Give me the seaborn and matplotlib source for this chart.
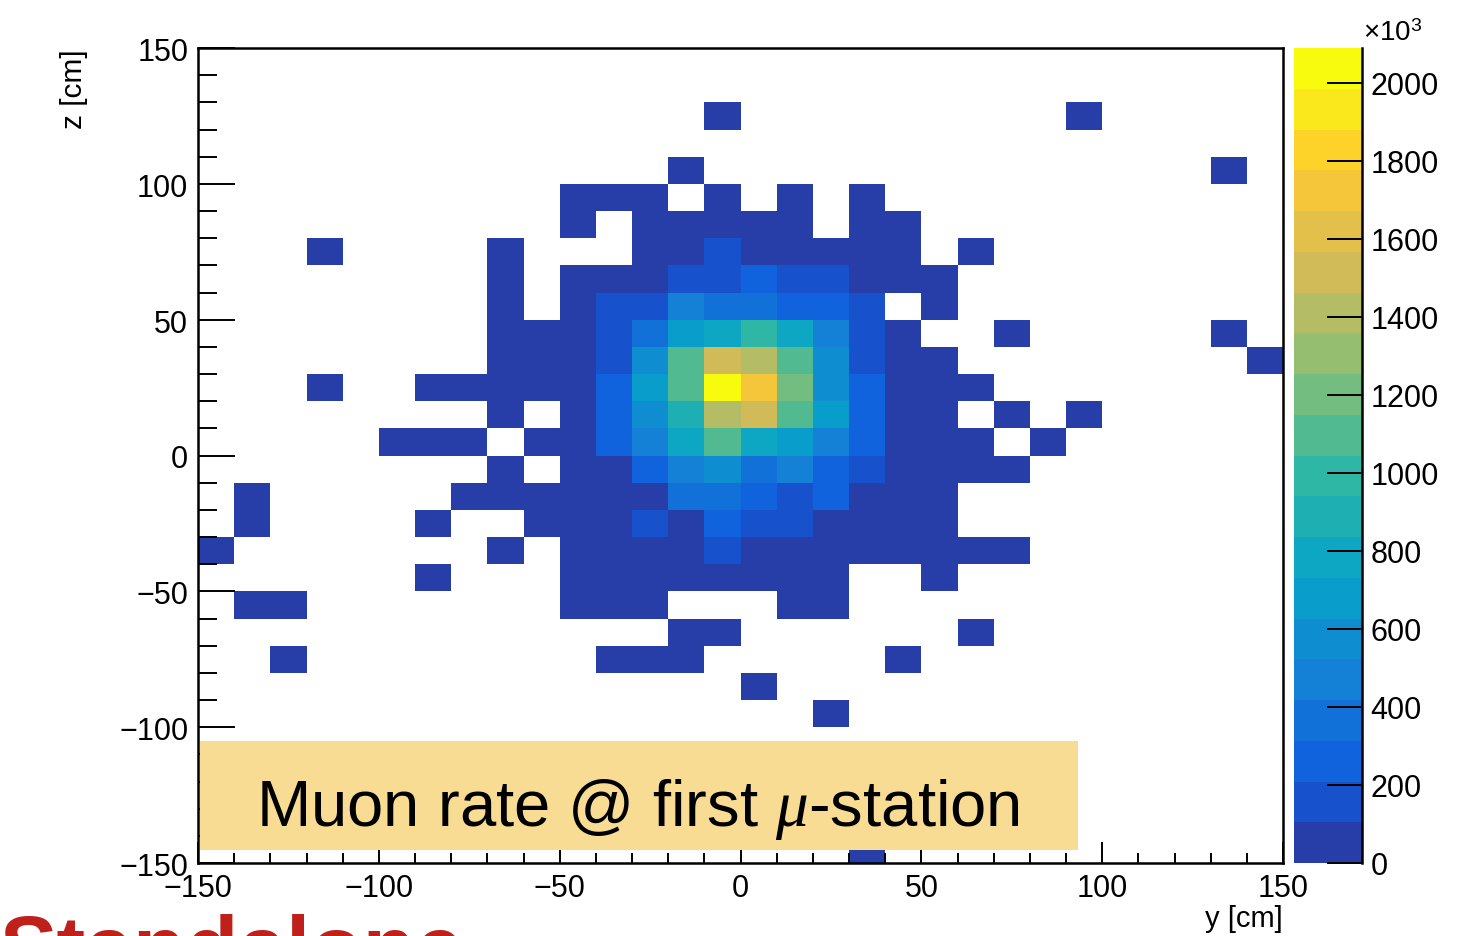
import numpy as np
import pandas as pd
import matplotlib
matplotlib.use("Agg")
import matplotlib.pyplot as plt
from matplotlib.colors import ListedColormap
from matplotlib.patches import Rectangle
import matplotlib.transforms as mtransforms
import seaborn as sns

# ---------------- data (muon rate, units of 10^3) ----------------
y_edges_low = list(range(-150, 150, 10))          # horizontal bins (y [cm])
z_rows = list(range(140, -160, -10))              # vertical bins, top -> bottom (lower edge, z [cm])
rate_rows = [
    [0]*30,
    [0]*30,
    [0,0,0,0,0,0,0,0,0,0, 0,0,0,0,40,0,0,0,0,0, 0,0,0,0,40,0,0,0,0,0],
    [0]*30,
    [0,0,0,0,0,0,0,0,0,0, 0,0,0,40,0,0,0,0,0,0, 0,0,0,0,0,0,0,0,40,0],
    [0,0,0,0,0,0,0,0,0,0, 50,50,50,0,50,0,50,0,50,0, 0,0,0,0,0,0,0,0,0,0],
    [0,0,0,0,0,0,0,0,0,0, 60,0,60,60,60,60,60,0,60,60, 0,0,0,0,0,0,0,0,0,0],
    [0,0,0,40,0,0,0,0,50,0, 0,0,70,80,157,90,80,70,60,50, 0,40,0,0,0,0,0,0,0,0],
    [0,0,0,0,0,0,0,0,50,0, 60,80,95,157,180,261,170,150,90,60, 50,0,0,0,0,0,0,0,0,0],
    [0,0,0,0,0,0,0,0,50,0, 80,150,170,470,366,366,261,261,157,0, 50,0,0,0,0,0,0,0,0,0],
    [0,0,0,0,0,0,0,0,50,60, 90,160,366,679,783,992,783,470,157,80, 0,0,40,0,0,0,0,0,40,0],
    [0,0,0,0,0,0,0,0,60,70, 95,160,574,1097,1515,1410,1097,574,157,80, 50,0,0,0,0,0,0,0,0,40],
    [0,0,0,40,0,0,50,50,60,80, 100,261,679,1097,2089,1723,1201,574,261,90, 60,50,0,0,0,0,0,0,0,0],
    [0,0,0,0,0,0,0,0,50,0, 90,261,574,888,1410,1515,1097,679,261,90, 60,0,40,0,40,0,0,0,0,0],
    [0,0,0,0,0,40,50,50,0,60, 90,261,470,783,1097,783,679,470,261,90, 60,50,0,40,0,0,0,0,0,0],
    [0,0,0,0,0,0,0,0,50,0, 70,90,261,470,574,366,470,261,157,80, 60,50,40,0,0,0,0,0,0,0],
    [0,40,0,0,0,0,0,50,50,60, 70,80,95,366,366,261,157,261,90,70, 50,0,0,0,0,0,0,0,0,0],
    [0,40,0,0,0,0,40,0,0,60, 70,80,157,95,261,157,157,90,80,60, 50,0,0,0,0,0,0,0,0,0],
    [40,0,0,0,0,0,0,0,50,0, 60,70,80,90,157,95,90,80,70,60, 50,50,40,0,0,0,0,0,0,0],
    [0,0,0,0,0,0,40,0,0,0, 50,60,70,80,90,80,70,60,0,0, 40,0,0,0,0,0,0,0,0,0],
    [0,40,40,0,0,0,0,0,0,0, 50,50,60,0,0,0,50,50,0,0, 0,0,0,0,0,0,0,0,0,0],
    [0,0,0,0,0,0,0,0,0,0, 0,0,0,50,50,0,0,0,0,0, 0,40,0,0,0,0,0,0,0,0],
    [0,0,40,0,0,0,0,0,0,0, 0,50,50,50,0,0,0,0,0,40, 0,0,0,0,0,0,0,0,0,0],
    [0,0,0,0,0,0,0,0,0,0, 0,0,0,0,0,50,0,0,0,0, 0,0,0,0,0,0,0,0,0,0],
    [0,0,0,0,0,0,0,0,0,0, 0,0,0,0,0,0,0,40,0,0, 0,0,0,0,0,0,0,0,0,0],
    [0]*30,
    [0]*30,
    [0]*30,
    [0]*30,
    [0,0,0,0,0,0,0,0,0,0, 0,0,0,0,0,0,0,0,40,0, 0,0,0,0,0,0,0,0,0,0],
]
axis_ticks = [-150, -100, -50, 0, 50, 100, 150]
cbar_ticks = [0, 200, 400, 600, 800, 1000, 1200, 1400, 1600, 1800, 2000]
z_max = 2089
n_levels = 20

# ---------------- palette (ROOT kBird, 20 contour levels) ----------------
stops = [0.0, 0.125, 0.25, 0.375, 0.5, 0.625, 0.75, 0.875, 1.0]
red = [0.2082, 0.0592, 0.0780, 0.0232, 0.1802, 0.5301, 0.8186, 0.9956, 0.9764]
green = [0.1664, 0.3599, 0.5041, 0.6419, 0.7178, 0.7492, 0.7328, 0.7862, 0.9832]
blue = [0.5293, 0.8684, 0.8385, 0.7914, 0.6425, 0.4662, 0.3499, 0.1968, 0.0539]
band_cols = []
for k in range(n_levels):
    p = int((k + 0.99) * 255 / n_levels) / 254.0
    band_cols.append((np.interp(p, stops, red), np.interp(p, stops, green), np.interp(p, stops, blue)))
cmap = ListedColormap(band_cols)

# ---------------- figure ----------------
plt.rcParams['font.family'] = ['Liberation Sans', 'DejaVu Sans']
plt.rcParams['mathtext.fontset'] = 'custom'
plt.rcParams['mathtext.rm'] = 'Liberation Sans'
plt.rcParams['mathtext.it'] = 'Liberation Serif:italic'

W, H = 1466, 937
fig = plt.figure(figsize=(W / 100, H / 100), dpi=100)
ax = fig.add_axes([198 / W, 1 - 864 / H, (1283 - 198) / W, (864 - 49) / H])
cax = fig.add_axes([1294 / W, 1 - 864 / H, (1362 - 1294) / W, (864 - 49) / H])

df = pd.DataFrame(rate_rows, index=z_rows, columns=y_edges_low).astype(float)
sns.heatmap(df, mask=(df == 0), cmap=cmap, vmin=0, vmax=z_max, ax=ax, cbar_ax=cax,
            cbar_kws={'ticks': cbar_ticks}, linewidths=0)

# axes frame
for s in ax.spines.values():
    s.set_visible(True)
    s.set_linewidth(1.8)
    s.set_color('black')

def fmt(v):
    return str(v).replace('-', '\u2212')

ax.set_xticks([(v + 150) / 10 for v in axis_ticks])
ax.set_xticklabels([fmt(v) for v in axis_ticks], rotation=0)
ax.set_xticks(np.arange(0, 31), minor=True)
ax.set_yticks([(150 - v) / 10 for v in axis_ticks])
ax.set_yticklabels([fmt(v) for v in axis_ticks], rotation=0)
ax.set_yticks(np.arange(0, 31), minor=True)
ax.set_xlim(0, 30)
ax.set_ylim(30, 0)

ax.tick_params(axis='x', which='major', direction='in', length=15, width=1.4,
               pad=7, labelsize=22, bottom=True, top=False)
ax.tick_params(axis='x', which='minor', direction='in', length=7.5, width=1.4,
               bottom=True, top=False)
ax.tick_params(axis='y', which='major', direction='in', length=26.5, width=1.4,
               pad=7, labelsize=22, left=True, right=False)
ax.tick_params(axis='y', which='minor', direction='in', length=13.5, width=1.4,
               left=True, right=False)

# small downward shift of y tick labels (ROOT-like placement)
shift = mtransforms.ScaledTranslation(0, -4 / 100, fig.dpi_scale_trans)
for lab in ax.get_yticklabels():
    lab.set_transform(lab.get_transform() + shift)

ax.set_xlabel('y [cm]', fontsize=21, loc='right')
ax.xaxis.set_label_coords(1.0, -(905 - 864) / 815)
ax.set_ylabel('z [cm]', fontsize=21.5, loc='top')
ax.yaxis.set_label_coords((88 - 198) / 1085, 1.0)

# colorbar styling
cax.tick_params(axis='y', which='major', direction='in', length=25, width=1.4,
                pad=6, labelsize=22, right=True, left=False)
cax.yaxis.set_ticks_position('right')
cax.set_yticklabels([str(v) for v in cbar_ticks])
cax.plot([1, 1], [0, 1], transform=cax.transAxes, color='black', lw=1.8, clip_on=False)
fig.text(1363 / W, 1 - 47 / H, '\u00d710$^{3}$', fontsize=20, ha='left', va='bottom')

# annotation box
fig.add_artist(Rectangle((199.5 / W, 1 - 851 / H), (1078 - 199.5) / W, (851 - 742) / H,
                         transform=fig.transFigure, facecolor='#f8dc94', edgecolor='none', zorder=5))
fig.text(638 / W, 1 - 826 / H, r'Muon rate @ first $\mu$-station', fontsize=47,
         ha='center', va='baseline', zorder=6)

# red slide heading, cut off at the bottom edge (only its top is visible)
fig.text(0 / W, 1 - 976 / H, 'Standalone', fontsize=62, fontweight='bold',
         color='#c0201a', ha='left', va='baseline')

fig.savefig('out.png', dpi=100)
